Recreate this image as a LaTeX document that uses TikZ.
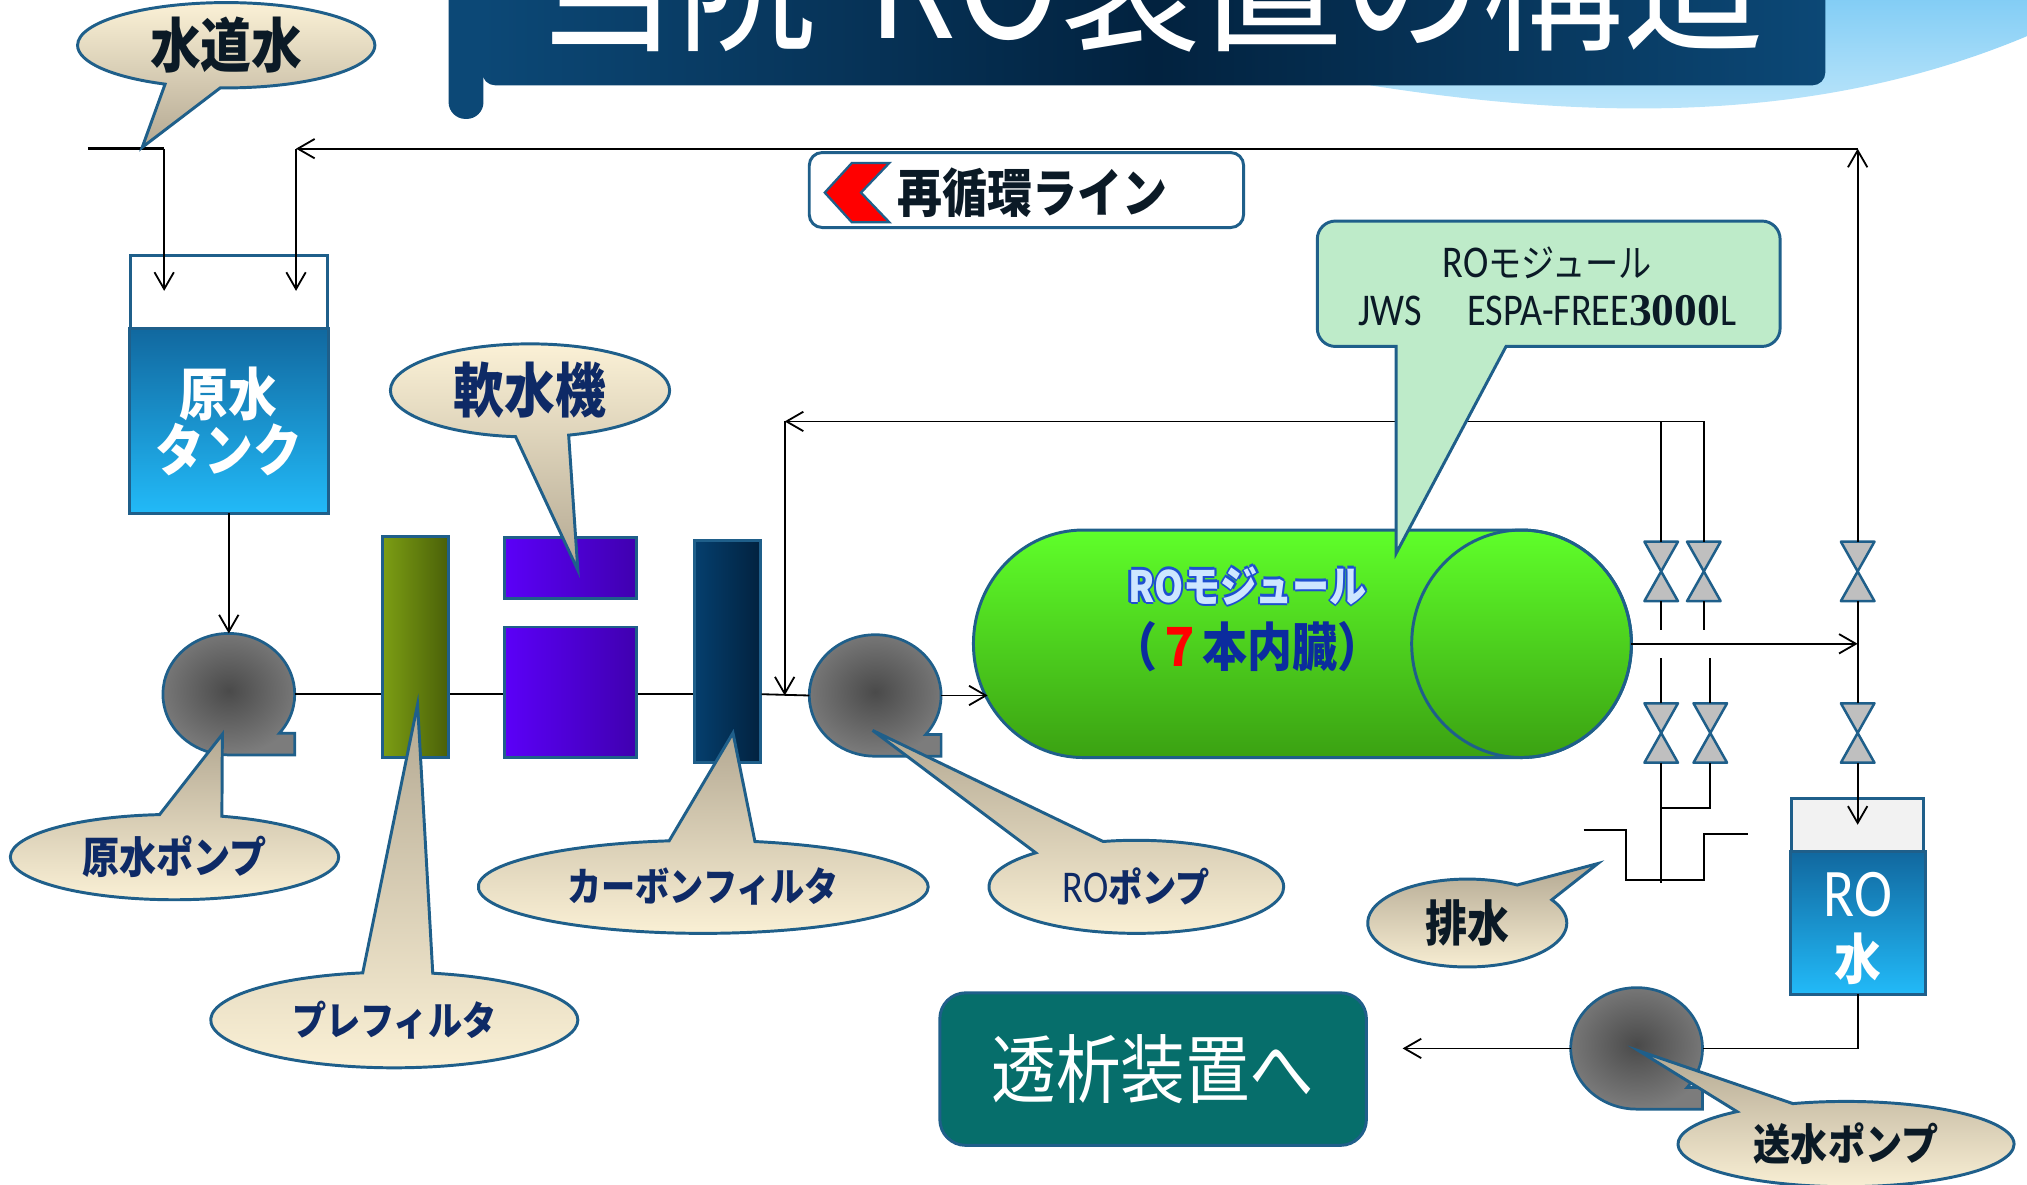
\documentclass[tikz,border=0pt]{standalone}
\usepackage{fontspec}
\usepackage{tikz}
\usetikzlibrary{calc,positioning,arrows.meta,shapes.callouts}
\setmainfont[FakeStretch=0.86]{Noto Sans CJK JP}
\newfontfamily\yokomoji[FakeStretch=0.84]{Carlito}
\newfontfamily\suuji{Liberation Serif}
\definecolor{waku}{HTML}{1F5F8A}
\definecolor{kon}{HTML}{0E2A66}
\definecolor{sumi}{HTML}{0B1A26}
\definecolor{hadaL}{HTML}{FBF1D6}
\definecolor{hadaD}{HTML}{B3A892}
\definecolor{aoUe}{HTML}{11689F}
\definecolor{aoShita}{HTML}{22BAF8}
\definecolor{kusaL}{HTML}{7C9E14}
\definecolor{kusaR}{HTML}{4A6008}
\definecolor{murasakiL}{HTML}{5B00F8}
\definecolor{murasakiR}{HTML}{4000B0}
\definecolor{konL}{HTML}{053F6E}
\definecolor{konR}{HTML}{02223F}
\definecolor{haiN}{HTML}{4A4A4A}
\definecolor{haiS}{HTML}{7C7C7C}
\definecolor{haiBen}{HTML}{BFBFBF}
\definecolor{midoriUe}{HTML}{5FFF2A}
\definecolor{midoriShita}{HTML}{3BA112}
\definecolor{wakaba}{HTML}{BEEBC9}
\definecolor{seiji}{HTML}{066E6B}
\definecolor{obiS}{HTML}{0C4876}
\definecolor{obiN}{HTML}{02223F}
\definecolor{sora}{HTML}{80CCF5}
\definecolor{soraL}{HTML}{C2E8FB}
\definecolor{shiroHai}{HTML}{F2F2F2}
\definecolor{aoMoji}{HTML}{CDE6FF}
\definecolor{aoFuchi}{HTML}{1E4FD0}
\definecolor{aoKoi}{HTML}{0B2C9E}
\newcommand{\moji}[1]{\fontsize{#1}{#1}\selectfont}
\newcommand{\fuchidori}[3]{\leavevmode
  \rlap{\color{#1}\hspace{-1pt}#3}\rlap{\color{#1}\hspace{1pt}#3}%
  \rlap{\color{#1}\raisebox{1pt}{#3}}\rlap{\color{#1}\raisebox{-1pt}{#3}}%
  \rlap{\color{#1}\hspace{.7pt}\raisebox{.7pt}{#3}}\rlap{\color{#1}\hspace{-.7pt}\raisebox{-.7pt}{#3}}%
  {\color{#2}#3}}
\newcommand{\ponpu}[2]{%
  \coordinate (#1) at #2;
  \shadedraw[inner color=haiN,outer color=haiS,draw=waku,line width=1.2pt,shift={(#1)}]
    (51,47) -- (51,30.2) -- (39.07,30.2) arc[start angle=40,end angle=-270,x radius=51,y radius=47] -- cycle;
  \path[shift={(#1)}] (0,-47) coordinate (#1-n) (51,0) coordinate (#1-e) (-51,0) coordinate (#1-w);}
\newcommand{\ben}[2]{%
  \coordinate (#1) at #2;
  \draw[waku,fill=haiBen,line width=1.1pt,line join=round,shift={(#1)}]
    (-13,-23) -- (13,-23) -- (-13,23) -- (13,23) -- cycle;
  \path[shift={(#1)}] (0,-23) coordinate (#1-n) (0,23) coordinate (#1-s);}

\begin{document}
\begin{tikzpicture}[x=0.2mm,y=-0.2mm,
    kan/.style={black,line width=0.8pt},
    yaji/.style={kan,-{Straight Barb[length=2.6mm,width=3mm]}},
    fukidashi/.style={ellipse callout,draw=waku,line width=1.3pt,inner sep=0pt,callout pointer arc=22},
    ue/.style={top color=hadaD,bottom color=hadaL},
    shita/.style={top color=hadaL,bottom color=hadaD},
    hako/.style={draw=waku,line width=1.3pt,inner sep=0pt}]
  \useasboundingbox (0,0) rectangle (1568,916);
  \clip (0,0) rectangle (1568,916);
  % sky band and title bar
  \shade[top color=sora,bottom color=soraL] (1060,-5) -- (1060,66)
    .. controls (1250,96) and (1420,92) .. (1575,25) -- (1575,-5) -- cycle;
  \shade[left color=obiS,right color=obiS,middle color=obiN,rounded corners=2mm] (373,-30) rectangle (1412,66);
  \fill[obiS,rounded corners=2.6mm] (347,-30) rectangle (374,92);
  \node[text=white,anchor=base,font=\moji{72pt}] (taitoru) at (890,30) {当院\hspace{.3em}RO装置の構造};

  % recirculation label
  \node[hako,fill=white,rounded corners=2mm,minimum width=336*0.2mm,minimum height=58*0.2mm] (saijun) at (794,147) {};
  \draw[waku,fill=red,line width=1pt] (659,126) -- (688,126) -- (666,149) -- (688,172) -- (659,172) -- (638,149) -- cycle;
  \node[text=sumi,font=\bfseries\moji{23pt},anchor=west] (saijunTxt) at (688,149) {再循環ライン};

  % tanks
  \node[hako,fill=white,minimum width=152*0.2mm,minimum height=198*0.2mm] (genT) at (177,297) {};
  \shade[top color=aoUe,bottom color=aoShita,draw=waku,line width=1.3pt] ($(genT.north west)+(0,57)$) rectangle (genT.south east);
  \node[text=white,font=\bfseries\moji{25pt},align=center] (genTtxt) at (177,326) {原水\\タンク};
  \node[hako,fill=shiroHai,minimum width=102*0.2mm,minimum height=150*0.2mm] (roT) at (1437,693) {};
  \shade[top color=aoUe,bottom color=aoShita,draw=waku,line width=1.3pt] ($(roT.north west)+(0,42)$) rectangle (roT.south east);
  \node[text=white,font=\yokomoji\moji{30pt}] (roTtxt) at (1437,692) {RO};
  \node[text=white,font=\bfseries\moji{24pt}] (roTmizu) at (1437,742) {水};

  % filters and softener
  \node[hako,left color=kusaL,right color=kusaR,minimum width=51*0.2mm,minimum height=171*0.2mm] (pre) at (321.5,500.5) {};
  \node[hako,left color=murasakiL,right color=murasakiR,minimum width=102*0.2mm,minimum height=47*0.2mm] (nanA) at (441,439.5) {};
  \node[hako,left color=murasakiL,right color=murasakiR,minimum width=102*0.2mm,minimum height=101*0.2mm] (nanB) at (441,535.5) {};
  \node[hako,left color=konL,right color=konR,minimum width=51*0.2mm,minimum height=172*0.2mm] (tan) at (562.5,504) {};

  % pumps
  \ponpu{p1}{(177,537)}
  \ponpu{p2}{(677,538)}
  \ponpu{p3}{(1266,811)}

  % RO module
  \shade[top color=midoriUe,bottom color=midoriShita,draw=waku,line width=1.3pt] (838,410) -- (1177,410)
    arc[start angle=-90,end angle=90,x radius=85,y radius=88] -- (838,586)
    arc[start angle=90,end angle=270,x radius=85,y radius=88] -- cycle;
  \draw[waku,line width=1.3pt] (1177,498) ellipse[x radius=85,y radius=88];
  \coordinate (mod-w) at (764,538);
  \coordinate (mod-e) at (1262,498);
  \node[font=\bfseries\moji{19pt}] (modTxt) at (965,453) {\fuchidori{aoFuchi}{aoMoji}{RO{}モジュール}};
  \node[text=aoKoi,font=\bfseries\moji{23pt}] (modHon) at (965,500) {（{\color{red}７}本内臓）};

  % valves
  \ben{v1}{(1285,442)}
  \ben{v2}{(1318,442)}
  \ben{v3}{(1285,567)}
  \ben{v4}{(1323,567)}
  \ben{v5}{(1437,442)}
  \ben{v6}{(1437,567)}

  % dialysis outlet
  \node[hako,fill=seiji,rounded corners=4mm,minimum width=330*0.2mm,minimum height=118*0.2mm,
    text=white,font=\moji{33pt}] (touseki) at (892,827) {透析装置へ};

  % piping
  \coordinate (suidou) at (68,115);
  \coordinate (kyuA) at (127,115);
  \coordinate (kaeriA) at (229,115);
  \coordinate (kaeriKado) at (1437,115);
  \coordinate (junkan) at (607,326);
  \coordinate (gouryu) at (1285,625);
  \begin{scope}[kan]
    \draw[line width=1.3pt] (suidou) -- (kyuA);
    \draw[yaji] (kyuA) -- ++(0,110);
    \draw[yaji] (v5-n) -- (kaeriKado);
    \draw[yaji] (kaeriKado) -- (kaeriA);
    \draw[yaji] (kaeriA) -- ++(0,110);
    \draw[yaji] (genT.south) -- (p1-n);
    \draw (p1-e) -- (pre.west |- p1-e);
    \draw (pre.east |- p1-e) -- (nanB.west |- p1-e);
    \draw (nanB.east |- p1-e) -- (tan.west |- p1-e);
    \draw (tan.east |- p1-e) -- (p2-w);
    \draw[yaji] (p2-e) -- (mod-w);
    \draw[yaji] (v2-n) |- (junkan);
    \draw (v1-n) -- (v1-n |- junkan);
    \draw[yaji] (junkan) -- (junkan |- p2-w);
    \draw (v1-s) -- ++(0,22);
    \draw (v2-s) -- ++(0,22);
    \draw (v3-n) -- ++(0,-35);
    \draw (v4-n) -- ++(0,-35);
    \draw (v3-s) -- ++(0,93);
    \draw (v4-s) |- (gouryu);
    \draw (1225,642) -- (1258,642) -- (1258,681) -- (1318,681) -- (1318,645) -- (1352,645);
    \draw[yaji] (mod-e) -- (mod-e -| v5);
    \draw (v5-s) -- (v6-n);
    \draw[yaji] (v6-s) -- ++(0,48);
    \draw (roT.south) |- (p3-e);
    \draw[yaji] (p3-w) -- ++(-130,0);
  \end{scope}

  % module callout
  \draw[waku,fill=wakaba,line width=1.3pt] (1200,171) [rounded corners=2.8mm] -- (1019,171) -- (1019,268)
    -- (1050,268) [sharp corners] -- (1080,268) -- (1080,428) -- (1165,268) -- (1300,268)
    [rounded corners=2.8mm] -- (1377,268) -- (1377,171) -- cycle;
  \node[text=sumi,font=\moji{17pt}] (setsumei1) at (1197,203) {{\yokomoji\moji{20pt}RO}モジュール};
  \node[text=sumi,font=\yokomoji\moji{20pt}] (setsumei2) at (1197,240) {JWS\quad ESPA-FREE{\suuji\bfseries 3000}L};

  % callouts
  \node[fukidashi,shita,text=sumi,font=\bfseries\moji{26pt},minimum width=230*0.2mm,minimum height=66*0.2mm,
    callout absolute pointer={(110,114)}] (suidouF) at (175,35) {水道水};
  \node[fukidashi,shita,text=kon,font=\bfseries\moji{26pt},minimum width=216*0.2mm,minimum height=72*0.2mm,
    callout absolute pointer={(447,441)}] (nansuiF) at (410,302) {軟水機};
  \node[fukidashi,ue,text=kon,font=\bfseries\moji{19pt},minimum width=254*0.2mm,minimum height=66*0.2mm,
    callout absolute pointer={(172,568)}] (genPF) at (135,663) {原水ポンプ};
  \node[fukidashi,ue,text=kon,font=\bfseries\moji{17.5pt},minimum width=284*0.2mm,minimum height=74*0.2mm,
    callout absolute pointer={(323,545)}] (preF) at (305,789) {プレフィルタ};
  \node[fukidashi,ue,text=kon,font=\bfseries\moji{17.5pt},minimum width=348*0.2mm,minimum height=72*0.2mm,
    callout absolute pointer={(567,567)}] (tanF) at (544,686) {カーボンフィルタ};
  \node[fukidashi,ue,text=kon,font=\bfseries\moji{17.5pt},minimum width=228*0.2mm,minimum height=72*0.2mm,
    callout pointer arc=30,callout absolute pointer={(675,565)}] (roPF) at (879,686) {{\yokomoji\mdseries\moji{20pt}RO}ポンプ};
  \node[fukidashi,ue,text=sumi,font=\bfseries\moji{21.5pt},minimum width=154*0.2mm,minimum height=68*0.2mm,
    callout pointer arc=28,callout absolute pointer={(1236,668)}] (haisuiF) at (1135,714) {排水};
  \node[fukidashi,ue,text=sumi,font=\bfseries\moji{19pt},minimum width=260*0.2mm,minimum height=66*0.2mm,
    callout absolute pointer={(1268,813)}] (sousuiF) at (1428,885) {送水ポンプ};
\end{tikzpicture}
\end{document}
